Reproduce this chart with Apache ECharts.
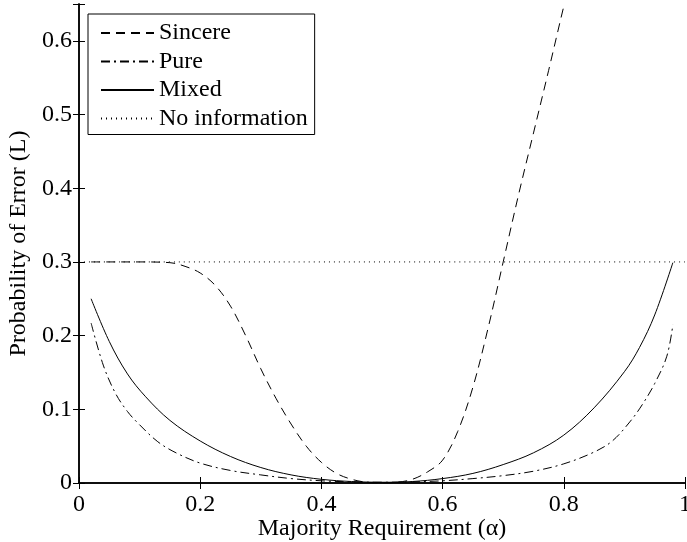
<!DOCTYPE html>
<html>
<head>
<meta charset="utf-8">
<script src="https://cdn.jsdelivr.net/npm/echarts@6/dist/echarts.min.js"></script>
<style>
  html, body { margin: 0; padding: 0; background: #fff; }
  #chart { width: 687px; height: 542px; }
</style>
</head>
<body>
<div id="chart"></div>
<script>
  // majority requirement (alpha) values
  var alphaSincere = [0.02, 0.05, 0.1, 0.15, 0.175, 0.2, 0.225, 0.25, 0.275, 0.3, 0.325, 0.35, 0.375, 0.4, 0.425, 0.45, 0.475, 0.5,
    0.525, 0.55, 0.575, 0.6, 0.625, 0.65, 0.675, 0.7, 0.725, 0.75, 0.775, 0.8, 0.825];
  var sincere = [0.3, 0.3, 0.3, 0.299, 0.294, 0.285, 0.268, 0.24, 0.2, 0.155, 0.115, 0.08, 0.05, 0.028, 0.013, 0.005, 0.001, 0.0,
    0.001, 0.005, 0.015, 0.031, 0.07, 0.13, 0.21, 0.3, 0.39, 0.475, 0.56, 0.647, 0.73];

  var alphaPure = [0.02, 0.04, 0.06, 0.08, 0.1, 0.13, 0.16, 0.2, 0.25, 0.3, 0.35, 0.4, 0.45, 0.5, 0.55, 0.6, 0.65, 0.7, 0.75, 0.8,
    0.85, 0.88, 0.91, 0.93, 0.95, 0.97, 0.98];
  var pure = [0.217, 0.16, 0.122, 0.097, 0.079, 0.056, 0.041, 0.027, 0.017, 0.011, 0.006, 0.003, 0.0015, 0.001, 0.0015, 0.003, 0.006,
    0.01, 0.016, 0.026, 0.042, 0.057, 0.084, 0.107, 0.135, 0.172, 0.215];

  var alphaMixed = [0.02, 0.05, 0.08, 0.11, 0.15, 0.2, 0.25, 0.3, 0.35, 0.4, 0.45, 0.5, 0.55, 0.6, 0.65, 0.7, 0.75, 0.8, 0.85, 0.9,
    0.925, 0.95, 0.98];
  var mixed = [0.25, 0.192, 0.148, 0.117, 0.085, 0.057, 0.036, 0.021, 0.011, 0.005, 0.002, 0.001, 0.002, 0.006, 0.013, 0.025, 0.041,
    0.065, 0.102, 0.151, 0.184, 0.228, 0.299];

  var alphaNoInfo = [0, 1];
  var noInfo = [0.3, 0.3];

  var seriesNames = ['Sincere', 'Pure', 'Mixed', 'No information'];

  function pairs(xs, ys) {
    var out = [];
    for (var i = 0; i < xs.length; i++) {
      out.push([xs[i], ys[i]]);
    }
    return out;
  }

  var font = 'Liberation Serif';
  var axisLine = { show: true, lineStyle: { color: '#000', width: 1.5 } };
  var tick = { show: true, inside: true, length: 6, lineStyle: { color: '#000', width: 1 } };

  function line(name, data, dash) {
    return {
      name: name,
      type: 'line',
      data: data,
      smooth: 0.35,
      symbol: 'none',
      clip: true,
      lineStyle: { color: '#000', width: 1, type: dash },
      itemStyle: { color: '#000' }
    };
  }

  var option = {
    animation: false,
    backgroundColor: '#fff',
    grid: { left: 79, right: 2, top: 4, bottom: 59, outerBoundsMode: 'none' },
    legend: {
      data: seriesNames,
      orient: 'vertical',
      left: 88,
      top: 14,
      padding: [7, 7, 4, 12],
      itemWidth: 53,
      itemHeight: 10,
      itemGap: 4.5,
      backgroundColor: '#fff',
      borderColor: '#000',
      borderWidth: 1,
      borderRadius: 0,
      itemStyle: { opacity: 0 },
      textStyle: { fontFamily: font, fontSize: 24, color: '#000' }
    },
    xAxis: [{
      type: 'value',
      min: 0,
      max: 1,
      interval: 0.2,
      name: 'Majority Requirement (α)',
      nameLocation: 'middle',
      nameGap: 34,
      nameMoveOverlap: false,
      nameTextStyle: { fontFamily: font, fontSize: 24, color: '#000' },
      axisLine: axisLine,
      axisTick: tick,
      splitLine: { show: false },
      axisLabel: {
        margin: 10,
        fontFamily: font, fontSize: 24, color: '#000',
        formatter: function (v) { return (v === 0 || v === 1) ? String(v) : v.toFixed(1); }
      }
    }, {
      type: 'value',
      position: 'top',
      min: 0,
      max: 1,
      interval: 0.2,
      axisLine: axisLine,
      axisTick: tick,
      splitLine: { show: false },
      axisLabel: { show: false }
    }],
    yAxis: [{
      type: 'value',
      min: 0,
      max: 0.65,
      interval: 0.1,
      name: 'Probability of Error (L)',
      nameLocation: 'middle',
      nameGap: 48,
      nameTextStyle: { fontFamily: font, fontSize: 24, color: '#000' },
      axisLine: axisLine,
      axisTick: tick,
      splitLine: { show: false },
      axisLabel: {
        margin: 7,
        fontFamily: font, fontSize: 24, color: '#000',
        formatter: function (v) {
          if (v > 0.61) return '';
          return v === 0 ? '0' : v.toFixed(1);
        }
      }
    }, {
      type: 'value',
      position: 'right',
      min: 0,
      max: 0.65,
      interval: 0.1,
      axisLine: axisLine,
      axisTick: tick,
      splitLine: { show: false },
      axisLabel: { show: false }
    }],
    series: [
      line('Sincere', pairs(alphaSincere, sincere), [9, 6]),
      line('Pure', pairs(alphaPure, pure), [9, 4, 2, 4]),
      line('Mixed', pairs(alphaMixed, mixed), 'solid'),
      line('No information', pairs(alphaNoInfo, noInfo), [1, 4])
    ]
  };

  var chart = echarts.init(document.getElementById('chart'));
  chart.setOption(option);
</script>
</body>
</html>
